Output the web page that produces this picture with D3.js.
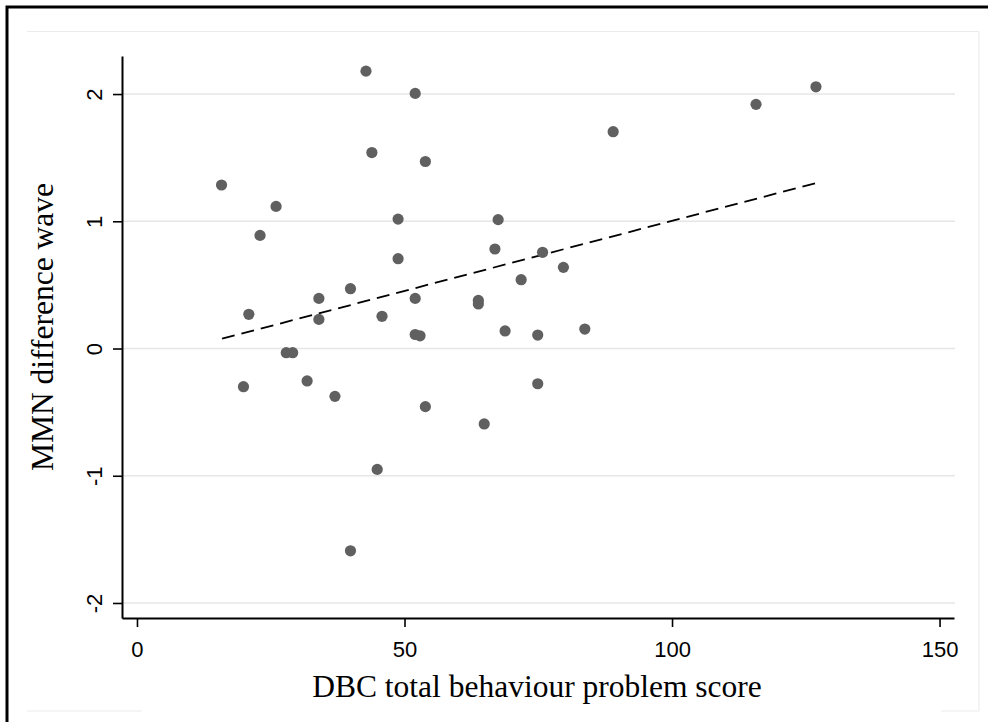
<!DOCTYPE html>
<html>
<head>
<meta charset="utf-8">
<script src="https://cdn.jsdelivr.net/npm/d3@7"></script>
<style>
  body { margin: 0; background: #fff; }
  svg { display: block; }
</style>
</head>
<body>
<svg id="chart"></svg>
<script>
// DBC score vs MMN difference wave
const dbcScore = [42.8, 52.0, 43.9, 53.9, 15.8, 26.0, 23.0, 48.8, 48.8, 67.5,
                  66.9, 39.9, 34.0, 52.0, 63.8, 63.8, 20.9, 34.0, 45.8, 52.0,
                  52.9, 27.9, 29.1, 19.9, 31.8, 37.0, 53.9, 64.9, 44.9, 39.9,
                  126.9, 115.7, 89.0, 75.8, 79.7, 71.8, 68.8, 74.9, 83.7, 74.9];
const mmnWave = [2.18, 2.005, 1.54, 1.47, 1.285, 1.117, 0.889, 1.017, 0.706, 1.013,
                 0.782, 0.47, 0.394, 0.394, 0.378, 0.35, 0.269, 0.229, 0.253, 0.11,
                 0.10, -0.033, -0.033, -0.30, -0.255, -0.376, -0.457, -0.593, -0.95, -1.59,
                 2.057, 1.919, 1.704, 0.756, 0.638, 0.541, 0.138, 0.106, 0.153, -0.277];

// fitted line end points
const fitX = [15.9, 126.9];
const fitY = [0.077, 1.30];

const xTicks = [0, 50, 100, 150];
const yTicks = [-2, -1, 0, 1, 2];

const [w, h] = [988, 722];
const svg = d3.select("#chart").attr("width", w).attr("height", h);

// outer frame + faint inner frame
svg.append("rect").attr("x", 7).attr("y", 7).attr("width", 1000).attr("height", 1000)
  .attr("fill", "none").attr("stroke", "#000").attr("stroke-width", 3);
const faint = "#ececec";
[[27, 31.5, 979, 31.5], [979, 31.5, 979, 711], [27, 711, 142, 711], [941, 711, 979, 711]].forEach(l => {
  svg.append("line").attr("x1", l[0]).attr("y1", l[1]).attr("x2", l[2]).attr("y2", l[3])
    .attr("stroke", faint).attr("stroke-width", 1.2);
});

const xScale = d3.scaleLinear().domain([-2.8, 152.7]).range([122, 954]);
const yScale = d3.scaleLinear().domain([-2.118, 2.299]).range([618, 56]);

// grid
svg.append("g").selectAll("line").data(yTicks).enter().append("line")
  .attr("x1", 122).attr("x2", 955)
  .attr("y1", d => yScale(d)).attr("y2", d => yScale(d))
  .attr("stroke", "#e6e6e6").attr("stroke-width", 1.6);

// axes
const fmt = d => String(d);
const xAxis = d3.axisBottom(xScale).tickValues(xTicks).tickFormat(fmt).tickSizeInner(9).tickSizeOuter(0).tickPadding(14);
const yAxis = d3.axisLeft(yScale).tickValues(yTicks).tickFormat(fmt).tickSizeInner(9).tickSizeOuter(0).tickPadding(10);

const gx = svg.append("g").attr("transform", "translate(0,618)").call(xAxis);
const gy = svg.append("g").attr("transform", "translate(122,0)").call(yAxis);

[gx, gy].forEach(g => {
  g.select(".domain").attr("stroke", "#000").attr("stroke-width", 2);
  g.selectAll(".tick line").attr("stroke", "#000").attr("stroke-width", 1.6);
  g.selectAll(".tick text").attr("fill", "#000")
    .style("font-family", "'Liberation Sans', Arial, sans-serif").style("font-size", "22px");
});
gy.selectAll(".tick text")
  .attr("x", null).attr("dy", null)
  .attr("text-anchor", "middle")
  .attr("transform", "translate(-20,0) rotate(-90)");

// fit line
const fitData = fitX.map((v, i) => [v, fitY[i]]);
svg.append("path").datum(fitData)
  .attr("d", d3.line().x(d => xScale(d[0])).y(d => yScale(d[1])))
  .attr("fill", "none").attr("stroke", "#000").attr("stroke-width", 1.8)
  .attr("stroke-dasharray", "13,7");

// points
svg.append("g").selectAll("circle").data(dbcScore).enter().append("circle")
  .attr("cx", d => xScale(d))
  .attr("cy", (d, i) => yScale(mmnWave[i]))
  .attr("r", 5.6)
  .attr("fill", "#606060");

// titles
svg.append("text").attr("x", 537).attr("y", 697).attr("text-anchor", "middle")
  .style("font-family", "'Liberation Serif', 'Times New Roman', serif").style("font-size", "31.5px")
  .text("DBC total behaviour problem score");
svg.append("text").attr("transform", "translate(53,327) rotate(-90)").attr("text-anchor", "middle")
  .style("font-family", "'Liberation Serif', 'Times New Roman', serif").style("font-size", "31.5px")
  .text("MMN difference wave");
</script>
</body>
</html>
